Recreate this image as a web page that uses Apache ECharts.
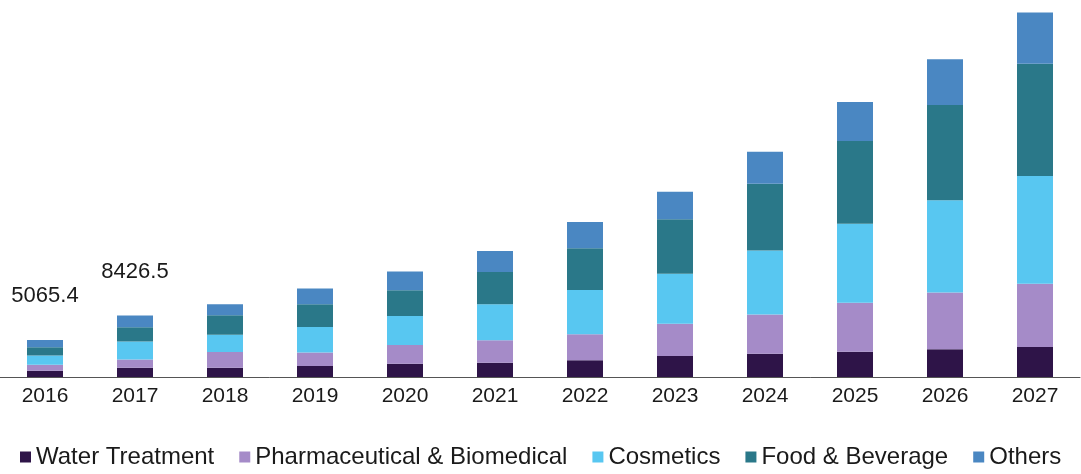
<!DOCTYPE html>
<html>
<head>
<meta charset="utf-8">
<script src="https://cdn.jsdelivr.net/npm/echarts@6/dist/echarts.min.js"></script>
<style>
  html, body { margin: 0; padding: 0; background: #ffffff; }
  #chart { width: 1081px; height: 474px; }
</style>
</head>
<body>
<div id="chart"></div>
<script>
const years = ["2016","2017","2018","2019","2020","2021","2022","2023","2024","2025","2026","2027"];
const waterTreatment = [850, 1275, 1280, 1510, 1830, 1960, 2290, 2880, 3190, 3470, 3790, 4110];
const pharmaBiomedical = [830, 1138, 2150, 1830, 2560, 3060, 3560, 4430, 5380, 6710, 7770, 8680];
const cosmetics = [1270, 2459, 2370, 3520, 3970, 4930, 6070, 6850, 8770, 10820, 12650, 14750];
const foodBeverage = [1130, 1958, 2650, 3110, 3520, 4430, 5710, 7440, 9140, 11330, 13060, 15390];
const others = [985.4, 1596.5, 1510, 2150, 2560, 2880, 3600, 3790, 4380, 5340, 6260, 6990];
const totalLabels = ["5065.4", "8426.5", "", "", "", "", "", "", "", "", "", ""];

const seriesNames = ["Water Treatment", "Pharmaceutical & Biomedical", "Cosmetics", "Food & Beverage", "Others"];
const seriesColors = ["#2e1448", "#a58bc8", "#58c7f1", "#2a7889", "#4a87c2"];
const seriesData = [waterTreatment, pharmaBiomedical, cosmetics, foodBeverage, others];

const chart = echarts.init(document.getElementById('chart'), null, { renderer: 'canvas' });

const series = seriesData.map((d, i) => {
  const s = {
    name: seriesNames[i],
    type: 'bar',
    stack: 'total',
    barWidth: 36,
    itemStyle: { color: seriesColors[i] },
    data: d
  };
  if (i === seriesData.length - 1) {
    s.label = {
      show: true,
      position: 'top',
      distance: 33,
      fontFamily: 'Liberation Sans',
      fontSize: 22,
      color: '#1a1a1a',
      formatter: p => totalLabels[p.dataIndex]
    };
  }
  return s;
});

chart.setOption({
  animation: false,
  backgroundColor: '#ffffff',
  grid: { left: 0, right: 1, top: 2, bottom: 97, containLabel: false },
  legend: {
    left: 15,
    top: 440,
    itemWidth: 11,
    itemHeight: 11,
    itemGap: 25,
    icon: 'rect',
    textStyle: { fontFamily: 'Liberation Sans', fontSize: 24, color: '#1a1a1a' },
    data: seriesNames
  },
  xAxis: {
    type: 'category',
    data: years,
    axisLine: { show: true, lineStyle: { color: '#555555', width: 1 } },
    axisTick: { show: false },
    axisLabel: { fontFamily: 'Liberation Sans', fontSize: 21, color: '#1a1a1a', margin: 9 }
  },
  yAxis: {
    type: 'value',
    min: 0,
    max: 51375,
    show: false,
    splitLine: { show: false }
  },
  series: series
});
</script>
</body>
</html>
